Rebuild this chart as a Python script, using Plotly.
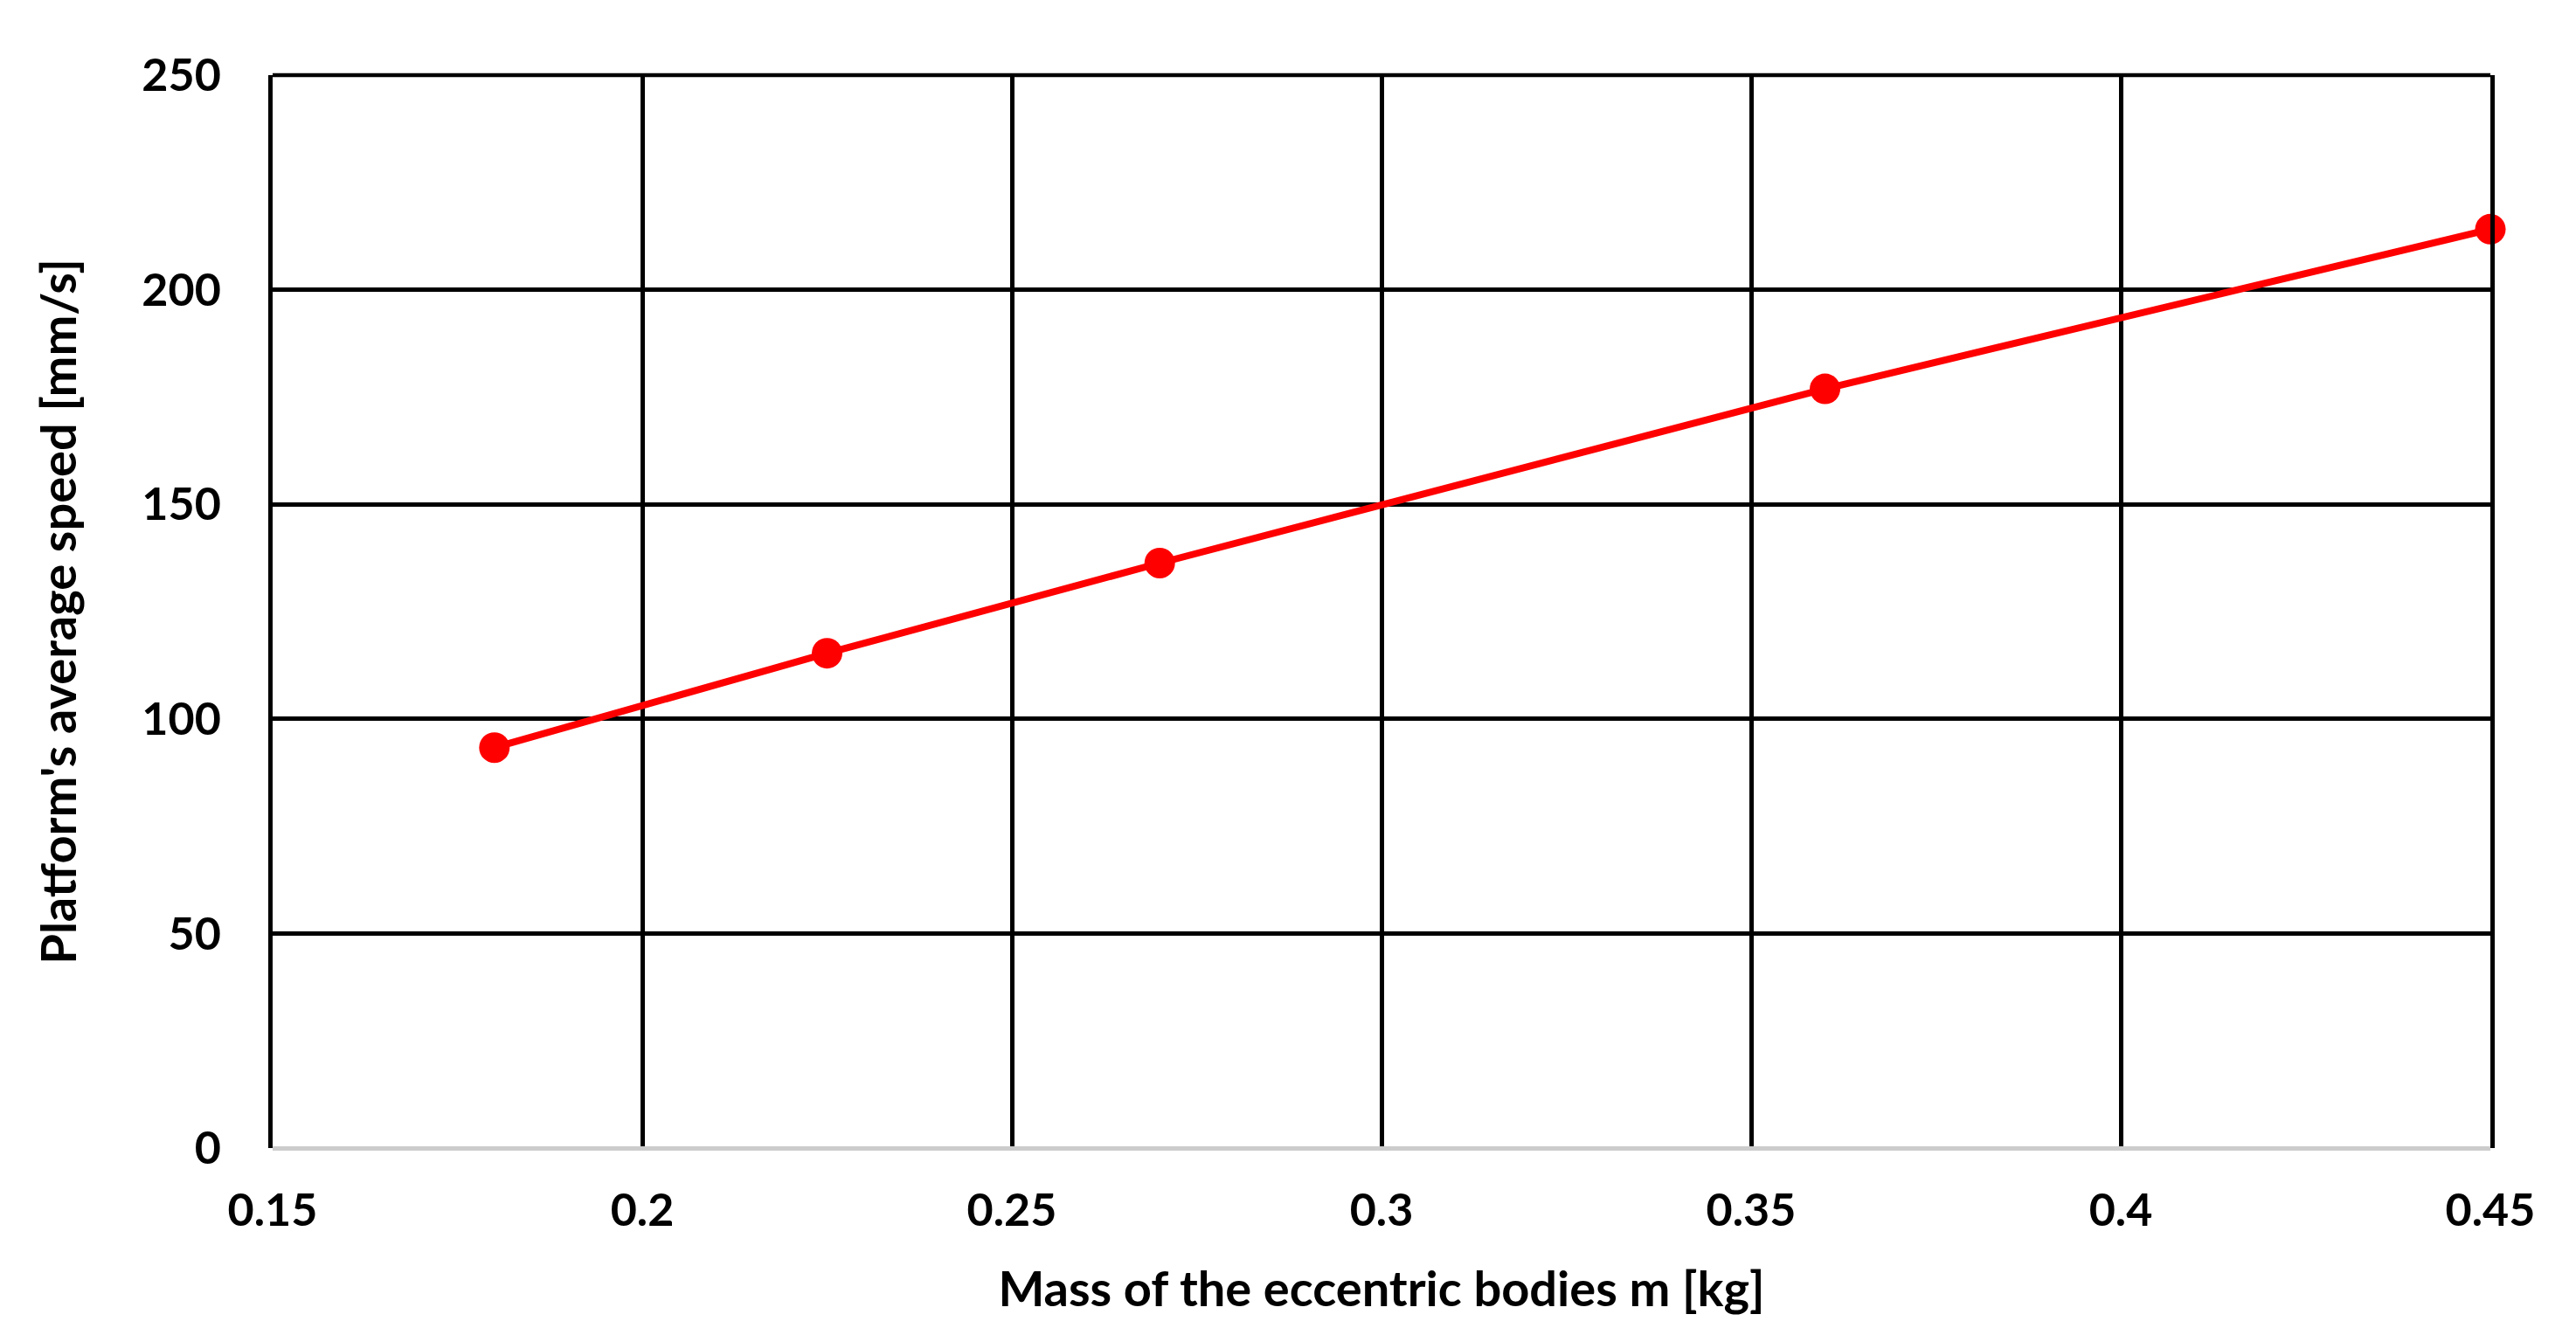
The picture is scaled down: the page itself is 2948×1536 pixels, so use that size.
import plotly.graph_objects as go

# data
mass_kg = [0.18, 0.225, 0.27, 0.36, 0.45]
speed_mm_s = [93.3, 115.3, 136.3, 176.9, 214.1]

x_ticks = [0.15, 0.2, 0.25, 0.3, 0.35, 0.4, 0.45]
x_labels = ["0.15", "0.2", "0.25", "0.3", "0.35", "0.4", "0.45"]
y_ticks = [0, 50, 100, 150, 200, 250]

font_name = "Lato"

fig = go.Figure()
fig.add_trace(go.Scatter(x=mass_kg, y=speed_mm_s, mode='lines+markers',
                         line=dict(color='#FF0000', width=8),
                         marker=dict(color='#FF0000', size=35),
                         showlegend=False, cliponaxis=False))

fig.update_layout(
    width=2948, height=1536,
    paper_bgcolor='white', plot_bgcolor='white',
    margin=dict(l=304, r=106, t=78, b=230),
    font=dict(family=font_name, size=52, color='black', weight='bold'),
)

# top border (the 250 gridline sits on the plot edge)
fig.add_shape(type='line', xref='x domain', yref='y domain',
              x0=0, x1=1, y0=1, y1=1, line=dict(color='black', width=4.5),
              layer='below')

fig.update_xaxes(range=[0.15, 0.45], tickvals=x_ticks, ticktext=x_labels,
                 showgrid=True, gridcolor='black', gridwidth=4.5,
                 zeroline=False, showline=False,
                 ticks='outside', ticklen=26, tickcolor='rgba(0,0,0,0)',
                 tickfont=dict(size=52),
                 title=dict(text="Mass of the eccentric bodies m [kg]",
                            font=dict(size=56), standoff=42))

fig.update_yaxes(range=[0, 250], tickvals=y_ticks,
                 showgrid=True, gridcolor='black', gridwidth=4.5,
                 zeroline=True, zerolinecolor='#cccccc', zerolinewidth=5,
                 showline=True, linecolor='black', linewidth=4.5, mirror=True,
                 ticks='outside', ticklen=44, tickcolor='rgba(0,0,0,0)',
                 tickfont=dict(size=52),
                 title=dict(text="Platform's average speed [mm/s]",
                            font=dict(size=56), standoff=58))

fig.write_html("out.html")
